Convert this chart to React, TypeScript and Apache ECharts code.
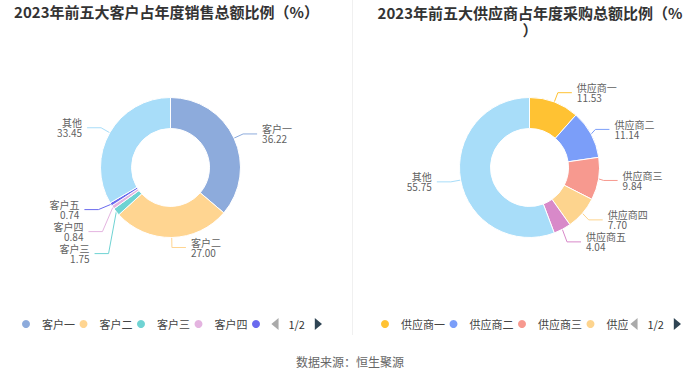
import React, { useEffect, useRef } from 'react';
import * as echarts from 'echarts';

const customerNames = ['客户一', '客户二', '客户三', '客户四', '客户五', '其他'];
const customerValues = [36.22, 27.0, 1.75, 0.84, 0.74, 33.45];
const customerColors = ['#8DABDC', '#FFD591', '#6FD3D3', '#E4B4E0', '#6A6AEE', '#A8DDF9'];

const supplierNames = ['供应商一', '供应商二', '供应商三', '供应商四', '供应商五', '其他'];
const supplierValues = [11.53, 11.14, 9.84, 7.7, 4.04, 55.75];
const supplierColors = ['#FFC233', '#7B9EF9', '#F7998F', '#FDD48E', '#D889C9', '#A8DDF9'];

const leftTitle = '2023年前五大客户占年度销售总额比例（%）';
const rightTitle = '2023年前五大供应商占年度采购总额比例（%\n）';
const sourceText = '数据来源：恒生聚源';

const FONT = '"Noto Sans CJK SC", "Noto Sans", sans-serif';

function pieSeries(names: string[], values: number[], colors: string[], center: number[]) {
  return {
    type: 'pie',
    center,
    radius: [39, 70],
    startAngle: 90,
    clockwise: true,
    avoidLabelOverlap: true,
    itemStyle: { borderColor: '#fff', borderWidth: 1 },
    label: {
      show: true,
      formatter: (p: any) => p.name + '\n' + Number(p.value).toFixed(2),
      fontSize: 10,
      lineHeight: 10,
      color: '#5f5f5f',
      fontFamily: FONT,
    },
    labelLine: { show: true, length: 10, length2: 14, smooth: false, lineStyle: { width: 1 } },
    emphasis: { disabled: true },
    data: names.map((n, i) => ({ name: n, value: values[i], itemStyle: { color: colors[i] } })),
  };
}

function legend(names: string[], left: number, width: number) {
  return {
    type: 'scroll',
    orient: 'horizontal',
    left,
    top: 318,
    width,
    padding: 0,
    icon: 'circle',
    itemWidth: 22,
    itemHeight: 10,
    itemGap: 2.5,
    data: names,
    textStyle: { fontSize: 11, color: '#444', fontFamily: FONT },
    pageIconSize: 12,
    pageButtonItemGap: 5,
    pageIconColor: '#2f4554',
    pageIconInactiveColor: '#aaa',
    pageTextStyle: { color: '#333', fontSize: 11, fontFamily: FONT },
  };
}

export default function App() {
  const ref = useRef<HTMLDivElement>(null);
  useEffect(() => {
    if (!ref.current) return;
    const chart = echarts.init(ref.current, undefined, { renderer: 'svg' });
    chart.setOption({
      animation: false,
      backgroundColor: '#fff',
      textStyle: { fontFamily: FONT },
      legend: [legend(customerNames, 20, 302), legend(supplierNames, 379, 302)],
      series: [
        pieSeries(customerNames, customerValues, customerColors, [170.5, 167.5]),
        pieSeries(supplierNames, supplierValues, supplierColors, [529.5, 167.5]),
      ],
      graphic: [
        {
          type: 'line',
          shape: { x1: 352.5, y1: 0, x2: 352.5, y2: 335 },
          style: { stroke: '#f0f0f0', lineWidth: 1 },
          silent: true,
        },
        {
          type: 'text',
          x: 166.5,
          y: 4,
          style: {
            text: leftTitle,
            font: 'bold 15px ' + FONT,
            fill: '#333',
            align: 'center',
            verticalAlign: 'top',
          },
        },
        {
          type: 'text',
          x: 530,
          y: 4,
          style: {
            text: rightTitle,
            font: 'bold 15px ' + FONT,
            lineHeight: 17,
            fill: '#333',
            align: 'center',
            verticalAlign: 'top',
          },
        },
        {
          type: 'text',
          x: 350,
          y: 361,
          style: {
            text: sourceText,
            font: '12px ' + FONT,
            fill: '#666',
            align: 'center',
            verticalAlign: 'middle',
          },
        },
      ],
    });
    return () => chart.dispose();
  }, []);
  return (
    <div
      ref={ref}
      style={{ position: 'fixed', left: 0, top: 0, width: 700, height: 378, background: '#fff' }}
    />
  );
}
